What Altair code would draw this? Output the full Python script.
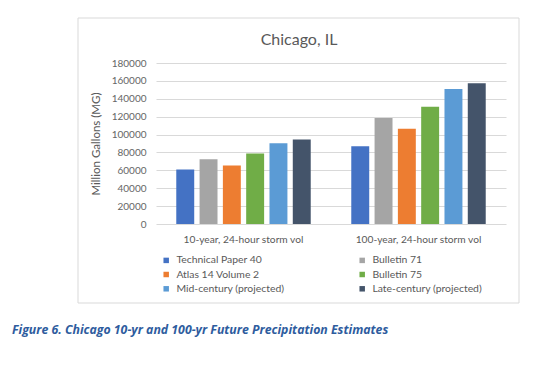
import altair as alt
import pandas as pd

periods = ["10-year, 24-hour storm vol", "100-year, 24-hour storm vol"]
series = ["Technical Paper 40", "Bulletin 71", "Atlas 14 Volume 2",
          "Bulletin 75", "Mid-century (projected)", "Late-century (projected)"]
colors = ["#4472C4", "#A5A5A5", "#ED7D31", "#70AD47", "#5B9BD5", "#44546A"]
vals_10yr = [61000, 72500, 65500, 78800, 90300, 94500]
vals_100yr = [87000, 118500, 106500, 131000, 150800, 157500]
y_ticks = [0, 20000, 40000, 60000, 80000, 100000, 120000, 140000, 160000, 180000]
title_text = "Chicago, IL"
caption_text = "Figure 6. Chicago 10-yr and 100-yr Future Precipitation Estimates"

# legend is filled column by column: left column first, then right column
legend_order = [series[0], series[2], series[4], series[1], series[3], series[5]]
legend_colors = [colors[series.index(s)] for s in legend_order]

rows = []
for i, s in enumerate(series):
    rows.append({"period": periods[0], "series": s, "value": vals_10yr[i]})
    rows.append({"period": periods[1], "series": s, "value": vals_100yr[i]})
df = pd.DataFrame(rows)

GRAY = "#595959"
FONT = "Lato"

frame = alt.Chart(pd.DataFrame({"a": [0]})).mark_rect(
    fill="transparent", stroke="#d9d9d9", strokeWidth=1
).encode(
    x=alt.value(-78), x2=alt.value(363), y=alt.value(-45), y2=alt.value(240)
)

bars = alt.Chart(df).mark_bar().encode(
    x=alt.X("period:N", sort=periods,
            scale=alt.Scale(paddingInner=0, paddingOuter=0),
            axis=alt.Axis(title=None, labelAngle=0, ticks=False, domain=False,
                          labelFontSize=10.2, labelColor=GRAY, labelFont=FONT,
                          labelPadding=10)),
    xOffset=alt.XOffset("series:N", sort=series,
                        scale=alt.Scale(paddingInner=0.23, paddingOuter=0.87)),
    y=alt.Y("value:Q",
            scale=alt.Scale(domain=[0, 180000], nice=False),
            axis=alt.Axis(title="Million Gallons (MG)", values=y_ticks, format="d",
                          ticks=False, domain=False, gridColor="#d9d9d9",
                          labelFontSize=10, labelColor="#666666", labelFont=FONT,
                          labelPadding=10, titleFont=FONT, titleFontSize=11.5,
                          titleFontWeight="normal", titleColor=GRAY,
                          titlePadding=10)),
    color=alt.Color("series:N", sort=legend_order,
                    scale=alt.Scale(domain=legend_order, range=legend_colors),
                    legend=alt.Legend(title=None, orient="none", legendX=5,
                                      legendY=192, columns=2, padding=0,
                                      symbolType="square", symbolSize=30,
                                      symbolStrokeWidth=0, labelFontSize=10.4,
                                      labelColor=GRAY, labelFont=FONT,
                                      labelOffset=5, rowPadding=3.3,
                                      columnPadding=72)),
)

title = alt.Chart(pd.DataFrame({"t": [title_text]})).mark_text(
    fontSize=16, font=FONT, color=GRAY, align="center", baseline="middle"
).encode(text="t:N", x=alt.value(143), y=alt.value(-23))

caption = alt.Chart(pd.DataFrame({"t": [caption_text]})).mark_text(
    fontSize=12.3, font="Open Sans", fontStyle="italic", fontWeight="bold",
    color="#2E5C9E", align="left", baseline="middle"
).encode(text="t:N", x=alt.value(-144), y=alt.value(267))

chart = alt.layer(frame, bars, title, caption).properties(
    width=350, height=161,
    autosize=alt.AutoSizeParams(type="none"),
    padding={"left": 148, "top": 55, "right": 20, "bottom": 140},
    background="white",
).configure_view(stroke=None)

chart.save("out.html", embed_options={"renderer": "svg", "actions": False})
